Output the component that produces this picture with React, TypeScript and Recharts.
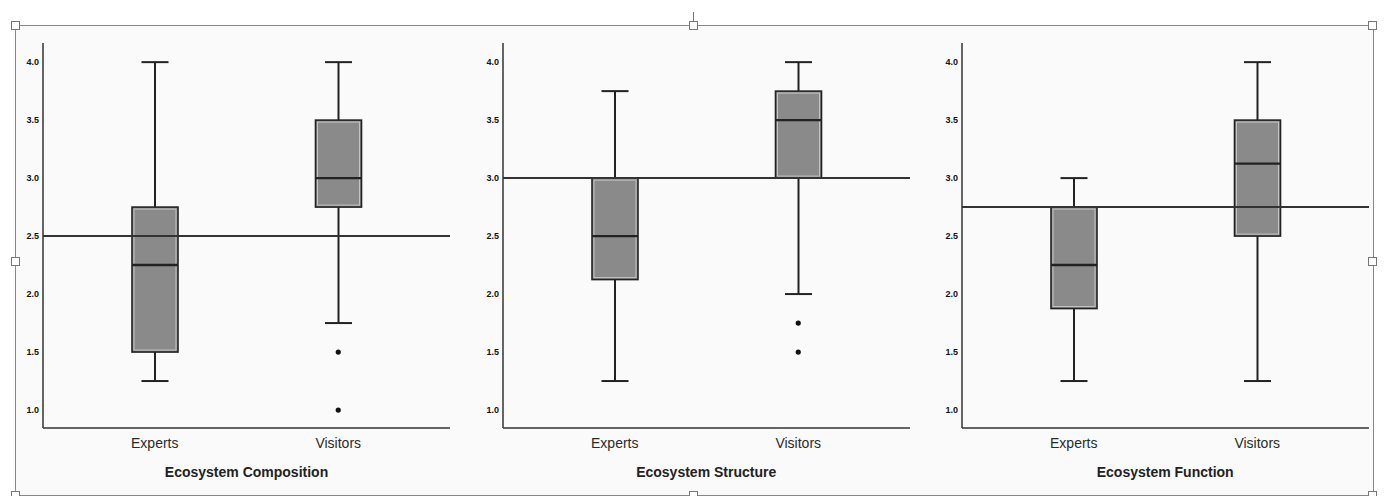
import React from "react";
import {
  ComposedChart,
  Bar,
  Line,
  XAxis,
  YAxis,
  ReferenceLine,
} from "recharts";

// groups on the x axis
const GROUPS = ["Experts", "Visitors"];

// [min, q1, median, q3, max] per group
const compositionStats = [
  [1.25, 1.5, 2.25, 2.75, 4.0],
  [1.75, 2.75, 3.0, 3.5, 4.0],
];
const compositionOutliers = [[], [1.5, 1.0]];

const structureStats = [
  [1.25, 2.125, 2.5, 3.0, 3.75],
  [2.0, 3.0, 3.5, 3.75, 4.0],
];
const structureOutliers = [[], [1.75, 1.5]];

const functionStats = [
  [1.25, 1.875, 2.25, 2.75, 3.0],
  [1.25, 2.5, 3.125, 3.5, 4.0],
];
const functionOutliers = [[], []];

const PANEL_TITLES = ["Ecosystem Composition", "Ecosystem Structure", "Ecosystem Function"];
const REFERENCE_VALUES = [2.5, 3.0, 2.75];
const Y_TICKS = [1.0, 1.5, 2.0, 2.5, 3.0, 3.5, 4.0];

const INK = "#222";
const BOX_FILL = "#8a8a8a";
const FONT = "Arial, 'Liberation Sans', sans-serif";

const CHART_W = 460;
const CHART_H = 496;
const PANEL_LEFTS = [0, 459.7, 918.7];

function buildRows(stats: number[][], outliers: number[][]) {
  return GROUPS.map((group, i) => {
    const [min, q1, median, q3, max] = stats[i];
    return {
      group,
      min,
      q1,
      median,
      q3,
      max,
      range: [min, max],
      o1: outliers[i][0] ?? null,
      o2: outliers[i][1] ?? null,
    };
  });
}

// draws whiskers + box + median from the bar the library positioned for [min, max]
function BoxShape(props: any) {
  const { x, y, width, height, payload } = props;
  if (payload == null || x == null) return null;
  const top = Math.min(y, y + height);
  const span = Math.abs(height);
  const { min, q1, median, q3, max } = payload;
  const k = span / (max - min || 1);
  const py = (v: number) => top + (max - v) * k;
  const cx = x + width / 2;
  const cap = 13.5;
  return (
    <g>
      <line x1={cx} x2={cx} y1={py(max)} y2={py(q3)} stroke={INK} strokeWidth={2} />
      <line x1={cx} x2={cx} y1={py(q1)} y2={py(min)} stroke={INK} strokeWidth={2} />
      <line x1={cx - cap} x2={cx + cap} y1={py(max)} y2={py(max)} stroke={INK} strokeWidth={2} />
      <line x1={cx - cap} x2={cx + cap} y1={py(min)} y2={py(min)} stroke={INK} strokeWidth={2} />
      <rect
        x={x}
        y={py(q3)}
        width={width}
        height={py(q1) - py(q3)}
        fill={BOX_FILL}
        stroke={INK}
        strokeWidth={1.6}
      />
      <rect
        x={x + 2}
        y={py(q3) + 2}
        width={width - 4}
        height={py(q1) - py(q3) - 4}
        fill="none"
        stroke="#c4c4c4"
        strokeWidth={1}
      />
      <line x1={x} x2={x + width} y1={py(median)} y2={py(median)} stroke={INK} strokeWidth={2.4} />
    </g>
  );
}

function OutlierDot(props: any) {
  const { cx, cy, value, index } = props;
  if (value == null || cy == null || isNaN(cy)) return <g key={`o-${index}`} />;
  return <circle key={`o-${index}`} cx={cx} cy={cy} r={2.6} fill="#111" />;
}

function Panel({
  rows,
  refValue,
  title,
  left,
}: {
  rows: any[];
  refValue: number;
  title: string;
  left: number;
}) {
  return (
    <div style={{ position: "absolute", left, top: 0, width: CHART_W, height: CHART_H }}>
      <ComposedChart
        width={CHART_W}
        height={CHART_H}
        data={rows}
        margin={{ top: 43, right: 10, left: 0, bottom: 38 }}
      >
        <XAxis
          dataKey="group"
          type="category"
          padding={{ left: 20, right: 20 }}
          height={30}
          tickLine={false}
          axisLine={{ stroke: "#333", strokeWidth: 1.5 }}
          tick={{ fontSize: 14, fill: "#2a2a2a", fontFamily: FONT, dy: 2 }}
        />
        <YAxis
          type="number"
          domain={[0.845, 4.165]}
          ticks={Y_TICKS}
          width={43}
          tickLine={false}
          tickSize={2}
          tickMargin={2}
          axisLine={{ stroke: "#333", strokeWidth: 1.5 }}
          tickFormatter={(v: number) => v.toFixed(1)}
          tick={{ fontSize: 9, fill: "#111", fontFamily: FONT, fontWeight: "bold" }}
        />
        <Bar dataKey="range" barSize={46} shape={<BoxShape />} isAnimationActive={false} />
        <ReferenceLine y={refValue} stroke="#333" strokeWidth={2} />
        <Line dataKey="o1" stroke="none" dot={OutlierDot} activeDot={false} isAnimationActive={false} />
        <Line dataKey="o2" stroke="none" dot={OutlierDot} activeDot={false} isAnimationActive={false} />
      </ComposedChart>
      <div
        style={{
          position: "absolute",
          left: 43,
          width: 407,
          top: 464,
          textAlign: "center",
          fontSize: 14,
          fontWeight: "bold",
          color: INK,
          fontFamily: FONT,
        }}
      >
        {title}
      </div>
    </div>
  );
}

function Handle({ x, y }: { x: number; y: number }) {
  return (
    <div
      style={{
        position: "absolute",
        left: x - 4,
        top: y - 4,
        width: 7,
        height: 7,
        background: "#fff",
        border: "1px solid #777",
      }}
    />
  );
}

export default function App() {
  const panels = [
    buildRows(compositionStats, compositionOutliers),
    buildRows(structureStats, structureOutliers),
    buildRows(functionStats, functionOutliers),
  ];
  return (
    <div
      style={{
        position: "absolute",
        left: 0,
        top: 0,
        width: 1385,
        height: 496,
        background: "#fff",
        overflow: "hidden",
        fontFamily: FONT,
      }}
    >
      {/* selection frame */}
      <div
        style={{
          position: "absolute",
          left: 15,
          top: 25,
          width: 1357,
          height: 469,
          border: "1px solid #888",
          background: "#fafafa",
        }}
      />
      <div style={{ position: "absolute", left: 693, top: 12, width: 1, height: 13, background: "#777" }} />
      {panels.map((rows, i) => (
        <Panel
          key={PANEL_TITLES[i]}
          rows={rows}
          refValue={REFERENCE_VALUES[i]}
          title={PANEL_TITLES[i]}
          left={PANEL_LEFTS[i]}
        />
      ))}
      <Handle x={15} y={25} />
      <Handle x={693} y={25} />
      <Handle x={1372} y={25} />
      <Handle x={15} y={261} />
      <Handle x={1372} y={261} />
      <Handle x={15} y={495} />
      <Handle x={693} y={495} />
      <Handle x={1372} y={495} />
    </div>
  );
}
